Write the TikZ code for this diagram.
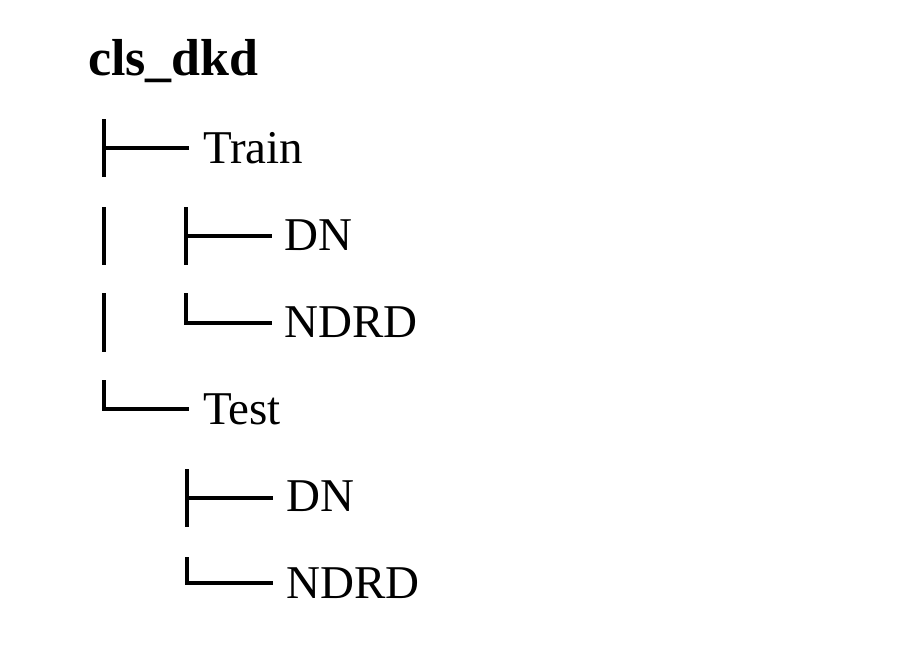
\documentclass[tikz,border=0pt]{standalone}
\usepackage{fontspec}
\setmainfont{Liberation Serif}
\usetikzlibrary{positioning,calc}

\begin{document}
\begin{tikzpicture}[
    x=1pt, y=-1pt,
    branch/.style={line width=3.5pt, line join=miter},
    rootname/.style={font=\bfseries\fontsize{52}{60}\selectfont, inner sep=0pt, anchor=base west},
    item/.style={font=\fontsize{47}{56}\selectfont, inner sep=0pt, anchor=base west}
]
    \useasboundingbox (0,0) rectangle (897,654);

    % Root folder
    \node[rootname] (root) at (88,75) {cls\_dkd};

    % Folder names
    \node[item] (train) at (203,163) {Train};
    \node[item] (traindn) at (284,250) {DN};
    \node[item] (trainndrd) at (284,337) {NDRD};
    \node[item] (test) at (203,424) {Test};
    \node[item] (testdn) at (286,511) {DN};
    \node[item] (testndrd) at (286,598) {NDRD};

    % Joints of the tree
    \coordinate (jtrain) at (104,148);
    \coordinate (jtraindn) at (186,236);
    \coordinate (jtrainndrd) at (186,323);
    \coordinate (jtest) at (104,409);
    \coordinate (jtestdn) at (187,498);
    \coordinate (jtestndrd) at (187,583);

    % Train branch
    \draw[branch] (104,119) -- (104,177);
    \draw[branch, shorten >=14pt] (jtrain) -- (jtrain -| train.west);
    % Train children
    \draw[branch] (104,207) -- (104,265);
    \draw[branch] (186,207) -- (186,265);
    \draw[branch, shorten >=12pt] (jtraindn) -- (jtraindn -| traindn.west);
    \draw[branch] (104,293) -- (104,352);
    \draw[branch, shorten >=12pt] (186,293) -- (jtrainndrd) -- (jtrainndrd -| trainndrd.west);

    % Test branch
    \draw[branch, shorten >=14pt] (104,380) -- (jtest) -- (jtest -| test.west);
    % Test children
    \draw[branch] (187,469) -- (187,527);
    \draw[branch, shorten >=13pt] (jtestdn) -- (jtestdn -| testdn.west);
    \draw[branch, shorten >=13pt] (187,557) -- (jtestndrd) -- (jtestndrd -| testndrd.west);
\end{tikzpicture}
\end{document}
